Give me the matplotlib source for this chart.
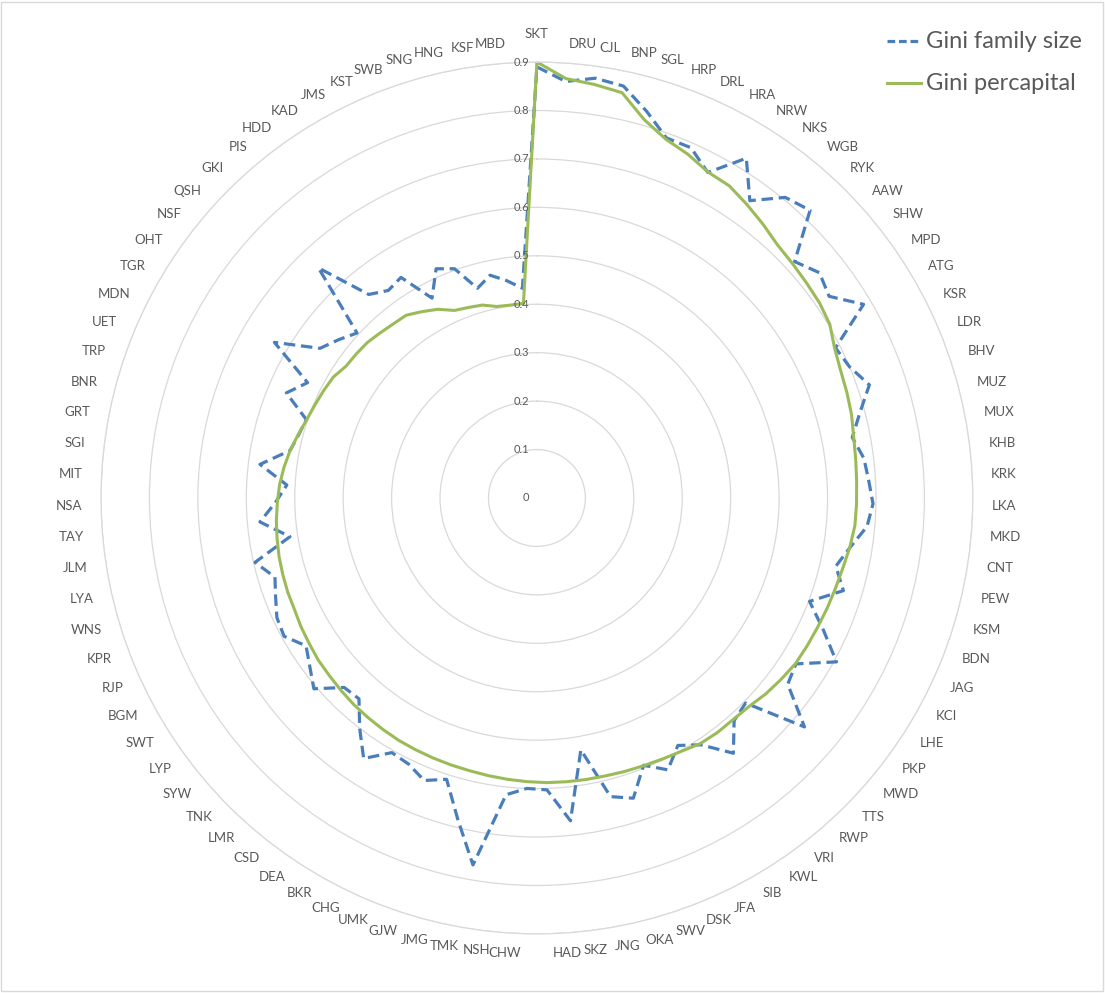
import numpy as np
import matplotlib.pyplot as plt
from matplotlib.lines import Line2D
from matplotlib.patches import Rectangle
from matplotlib.transforms import offset_copy

plt.rcParams['font.family'] = ['Lato', 'DejaVu Sans']

# districts, clockwise from the top
districts = ['SKT', 'DRU', 'CJL', 'BNP', 'SGL', 'HRP', 'DRL', 'HRA', 'NRW', 'NKS',
             'WGB', 'RYK', 'AAW', 'SHW', 'MPD', 'ATG', 'KSR', 'LDR', 'BHV', 'MUZ',
             'MUX', 'KHB', 'KRK', 'LKA', 'MKD', 'CNT', 'PEW', 'KSM', 'BDN', 'JAG',
             'KCI', 'LHE', 'PKP', 'MWD', 'TTS', 'RWP', 'VRI', 'KWL', 'SIB', 'JFA',
             'DSK', 'SWV', 'OKA', 'JNG', 'SKZ', 'HAD', 'CHW', 'NSH', 'TMK', 'JMG',
             'GJW', 'UMK', 'CHG', 'BKR', 'DEA', 'CSD', 'LMR', 'TNK', 'SYW', 'LYP',
             'SWT', 'BGM', 'RJP', 'KPR', 'WNS', 'LYA', 'JLM', 'TAY', 'NSA', 'MIT',
             'SGI', 'GRT', 'BNR', 'TRP', 'UET', 'MDN', 'TGR', 'OHT', 'NSF', 'QSH',
             'GKI', 'PIS', 'HDD', 'KAD', 'JMS', 'KST', 'SWB', 'SNG', 'HNG', 'KSF',
             'MBD']

gini_family_size = [0.890, 0.862, 0.875, 0.869, 0.830, 0.790, 0.790, 0.759, 0.824, 0.755,
                    0.805, 0.819, 0.722, 0.746, 0.733, 0.784, 0.690, 0.700, 0.725, 0.690,
                    0.663, 0.680, 0.686, 0.694, 0.684, 0.655, 0.633, 0.661, 0.602, 0.651,
                    0.705, 0.635, 0.645, 0.727, 0.604, 0.614, 0.665, 0.612, 0.588, 0.623,
                    0.594, 0.651, 0.635, 0.528, 0.670, 0.603, 0.600, 0.616, 0.769, 0.683,
                    0.610, 0.628, 0.610, 0.605, 0.646, 0.600, 0.554, 0.558, 0.606, 0.584,
                    0.566, 0.595, 0.591, 0.577, 0.565, 0.597, 0.516, 0.574, 0.540, 0.517,
                    0.576, 0.519, 0.509, 0.503, 0.561, 0.530, 0.630, 0.544, 0.524, 0.504,
                    0.655, 0.545, 0.527, 0.535, 0.466, 0.517, 0.503, 0.450, 0.470, 0.453,
                    0.434]

gini_percapital = [0.900, 0.868, 0.862, 0.855, 0.812, 0.787, 0.775, 0.760, 0.757, 0.745,
                   0.733, 0.721, 0.716, 0.712, 0.709, 0.703, 0.688, 0.680, 0.676, 0.672,
                   0.666, 0.663, 0.661, 0.660, 0.659, 0.654, 0.648, 0.644, 0.641, 0.638,
                   0.636, 0.634, 0.628, 0.622, 0.614, 0.611, 0.611, 0.609, 0.602, 0.598,
                   0.595, 0.593, 0.591, 0.590, 0.589, 0.588, 0.586, 0.584, 0.582, 0.580,
                   0.579, 0.578, 0.577, 0.576, 0.574, 0.572, 0.570, 0.567, 0.564, 0.562,
                   0.558, 0.555, 0.551, 0.550, 0.548, 0.546, 0.543, 0.540, 0.536, 0.532,
                   0.526, 0.519, 0.510, 0.502, 0.497, 0.493, 0.489, 0.479, 0.477, 0.475,
                   0.470, 0.466, 0.464, 0.452, 0.440, 0.423, 0.418, 0.414, 0.404, 0.402,
                   0.403]

radial_ticks = [0, 0.1, 0.2, 0.3, 0.4, 0.5, 0.6, 0.7, 0.8, 0.9]

BLUE = '#4a7ebb'
GREEN = '#9bbb59'
GREY_TXT = '#595959'

n = len(districts)
theta = np.arange(n) * 2 * np.pi / n
theta_closed = np.append(theta, theta[0])
fam_closed = np.append(gini_family_size, gini_family_size[0])
pc_closed = np.append(gini_percapital, gini_percapital[0])

fig = plt.figure(figsize=(11.05, 9.93), dpi=100)
ax = fig.add_axes([0.0914, 0.0595, 0.789, 0.878], projection='polar')
ax.set_theta_zero_location('N')
ax.set_theta_direction(-1)
ax.set_ylim(0, 0.9)

ax.set_yticks(radial_ticks[1:])
ax.set_yticklabels([])
ax.yaxis.grid(True, color='#d9d9d9', lw=0.9)
ax.xaxis.grid(False)
ax.spines['polar'].set_color('#d9d9d9')
ax.spines['polar'].set_linewidth(0.9)
ax.set_xticks([])

# category labels, excel style: left/right aligned by side, centred vertically
for i, (t, name) in enumerate(zip(theta, districts)):
    s = np.sin(t)
    if abs(s) < 1e-6:
        ax.text(t, 0.945, name, ha='center', va='bottom', fontsize=9.5, color=GREY_TXT)
        continue
    ha = 'left' if s > 0 else 'right'
    ax.text(t, 0.939, name, ha=ha, va='center', fontsize=9.5, color=GREY_TXT)

# radial value labels along the top axis
lab_tr = offset_copy(ax.transData, fig=fig, x=-8, y=0, units='dots')
for v in radial_ticks:
    ax.text(0, v, f'{v:g}', transform=lab_tr, ha='right', va='center',
            fontsize=8, color=GREY_TXT)

ax.plot(theta_closed, fam_closed, color=BLUE, lw=2.3, ls=(0, (3.6, 1.8)))
ax.plot(theta_closed, pc_closed, color=GREEN, lw=2.2)

# legend drawn in pixel positions of the original
W, H = 1105, 993
def fx(x):
    return x / W
def fy(y):
    return 1 - y / H

fig.add_artist(Line2D([fx(887), fx(921)], [fy(41), fy(41)], color=BLUE, lw=2.3,
                      ls=(0, (2.4, 1.2))))
fig.text(fx(926), fy(41), 'Gini family size', ha='left', va='center',
         fontsize=17, color=GREY_TXT)
fig.add_artist(Line2D([fx(887), fx(921)], [fy(83), fy(83)], color=GREEN, lw=2.2))
fig.text(fx(926), fy(83), 'Gini percapital', ha='left', va='center',
         fontsize=17, color=GREY_TXT)

fig.patches.append(Rectangle((0.001, 0.002), 0.997, 0.996, transform=fig.transFigure,
                             fill=False, edgecolor='#d9d9d9', lw=1))

fig.savefig('out.png', dpi=100)
